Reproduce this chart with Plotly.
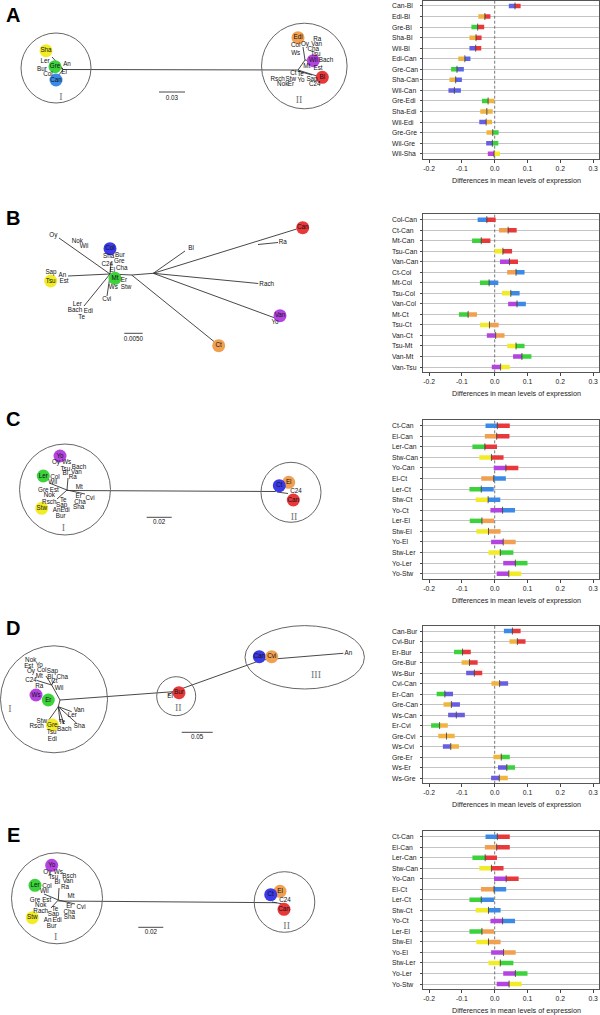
import plotly.graph_objects as go

W, H = 600, 1015

# ---------------- right-hand interval plots: data ----------------
A_labels = ["Can-Bl", "Edi-Bl", "Gre-Bl", "Sha-Bl", "Wil-Bl", "Edi-Can", "Gre-Can", "Sha-Can",
            "Wil-Can", "Gre-Edi", "Sha-Edi", "Wil-Edi", "Gre-Gre", "Wil-Gre", "Wil-Sha"]
A_low = [0.043, -0.050, -0.071, -0.077, -0.077, -0.111, -0.133, -0.138, -0.141, -0.039, -0.044, -0.047, -0.025, -0.026, -0.021]
A_mid = [0.062, -0.030, -0.052, -0.057, -0.058, -0.091, -0.115, -0.119, -0.123, -0.020, -0.024, -0.026, -0.006, -0.007, -0.002]
A_high = [0.079, -0.013, -0.032, -0.040, -0.041, -0.074, -0.094, -0.100, -0.103, -0.001, -0.006, -0.008, 0.012, 0.011, 0.016]

B_labels = ["Col-Can", "Ct-Can", "Mt-Can", "Tsu-Can", "Van-Can", "Ct-Col", "Mt-Col", "Tsu-Col",
            "Van-Col", "Mt-Ct", "Tsu-Ct", "Van-Ct", "Tsu-Mt", "Van-Mt", "Van-Tsu"]
B_low = [-0.052, 0.013, -0.069, -0.001, 0.016, 0.038, -0.045, 0.022, 0.041, -0.109, -0.045, -0.024, 0.038, 0.056, -0.009]
B_mid = [-0.024, 0.041, -0.041, 0.025, 0.045, 0.065, -0.017, 0.049, 0.068, -0.081, -0.016, 0.003, 0.065, 0.083, 0.018]
B_high = [0.003, 0.067, -0.013, 0.053, 0.071, 0.091, 0.011, 0.076, 0.095, -0.054, 0.012, 0.030, 0.091, 0.112, 0.046]

C_labels = ["Ct-Can", "El-Can", "Ler-Can", "Stw-Can", "Yo-Can", "El-Ct", "Ler-Ct", "Stw-Ct",
            "Yo-Ct", "Ler-El", "Stw-El", "Yo-El", "Stw-Ler", "Yo-Ler", "Yo-Stw"]
C_low = [-0.028, -0.030, -0.068, -0.047, -0.003, -0.041, -0.077, -0.058, -0.013, -0.076, -0.056, -0.011, -0.019, 0.026, 0.006]
C_mid = [0.008, 0.006, -0.030, -0.010, 0.034, -0.003, -0.041, -0.020, 0.024, -0.039, -0.019, 0.026, 0.017, 0.063, 0.043]
C_high = [0.046, 0.045, 0.007, 0.027, 0.072, 0.034, -0.003, 0.017, 0.062, -0.002, 0.018, 0.064, 0.057, 0.100, 0.081]

D_labels = ["Can-Bur", "Cvi-Bur", "Er-Bur", "Gre-Bur", "Ws-Bur", "Cvi-Can", "Er-Can", "Gre-Can",
            "Ws-Can", "Er-Cvi", "Gre-Cvi", "Ws-Cvi", "Gre-Er", "Ws-Er", "Ws-Gre"]
D_low = [0.028, 0.045, -0.124, -0.101, -0.087, -0.010, -0.177, -0.156, -0.142, -0.194, -0.172, -0.158, -0.004, 0.010, -0.011]
D_mid = [0.054, 0.069, -0.098, -0.077, -0.062, 0.015, -0.152, -0.132, -0.117, -0.168, -0.147, -0.134, 0.020, 0.037, 0.014]
D_high = [0.079, 0.094, -0.073, -0.052, -0.038, 0.041, -0.127, -0.106, -0.091, -0.143, -0.122, -0.109, 0.046, 0.062, 0.040]

E_labels = ["Ct-Can", "El-Can", "Ler-Can", "Stw-Can", "Yo-Can", "El-Ct", "Ler-Ct", "Stw-Ct",
            "Yo-Ct", "Ler-El", "Stw-El", "Yo-El", "Stw-Ler", "Yo-Ler", "Yo-Stw"]
E_low = [-0.028, -0.030, -0.068, -0.047, -0.002, -0.042, -0.077, -0.058, -0.013, -0.077, -0.056, -0.011, -0.019, 0.026, 0.006]
E_mid = [0.008, 0.006, -0.029, -0.010, 0.035, -0.002, -0.041, -0.019, 0.024, -0.039, -0.019, 0.027, 0.017, 0.063, 0.044]
E_high = [0.046, 0.046, 0.007, 0.027, 0.073, 0.035, -0.002, 0.018, 0.062, -0.002, 0.018, 0.064, 0.057, 0.100, 0.082]

x_ticks = [-0.2, -0.1, 0.0, 0.1, 0.2, 0.3]
x_ticktext = ["-0.2", "-0.1", "0.0", "0.1", "0.2", "0.3"]
x_title = "Differences in mean levels of expression"

# ---------------- styles ----------------
RED = "#e8383a"
ORANGE = "#f0a050"
GOLD = "#f2b440"
YELLOW = "#f2ec28"
GREEN = "#3cd23c"
BLUE = "#3c8ae6"
PBLUE = "#6a5ee0"
PURPLE = "#b444e0"
DBLUE = "#3a3ae8"

A_cols = {"Can": "#5e66e6", "Bl": RED, "Edi": GOLD, "Gre": GREEN, "Sha": GOLD, "Wil": PBLUE}
A_over = {12: (GOLD, GREEN), 14: ("#c040e0", YELLOW)}
B_cols = {"Col": BLUE, "Can": RED, "Ct": ORANGE, "Mt": GREEN, "Tsu": YELLOW, "Van": PURPLE}
C_cols = {"Ct": BLUE, "Can": RED, "El": ORANGE, "Ler": GREEN, "Stw": YELLOW, "Yo": PURPLE}
D_cols = {"Can": PBLUE, "Bur": RED, "Cvi": GOLD, "Er": GREEN, "Gre": GOLD, "Ws": PBLUE}
D_over = {0: (BLUE, RED)}

# (labels, low, mid, high, colours, overrides, top px, bottom px)
panels = [
    (A_labels, A_low, A_mid, A_high, A_cols, A_over, 0.7, 159.0),
    (B_labels, B_low, B_mid, B_high, B_cols, {}, 214.4, 372.3),
    (C_labels, C_low, C_mid, C_high, C_cols, {}, 420.4, 579.0),
    (D_labels, D_low, D_mid, D_high, D_cols, D_over, 625.8, 783.3),
    (E_labels, E_low, E_mid, E_high, C_cols, {}, 831.4, 989.3),
]

fig = go.Figure()
FONT = "Liberation Sans, Arial, sans-serif"
annotations = []

def yf(px):
    return 1 - px / H

for i, (labs, lo, mi, hi, cols, over, top, bot) in enumerate(panels):
    n = i + 1
    xa = "x" if n == 1 else f"x{n}"
    ya = "y" if n == 1 else f"y{n}"
    rows = list(range(1, len(labs) + 1))
    fig.add_trace(go.Scatter(x=[0, 0], y=[0.5, len(labs) + 0.5], mode="lines",
                             line=dict(color="#555", width=0.8, dash="3px,2px"),
                             xaxis=xa, yaxis=ya, hoverinfo="skip"))
    for k, lab in enumerate(labs):
        a, b = lab.split("-")
        c1, c2 = over.get(k, (cols.get(a, "#888"), cols.get(b, "#888")))
        r = rows[k]
        fig.add_trace(go.Scatter(x=[lo[k], mi[k]], y=[r, r], mode="lines",
                                 line=dict(color=c1, width=4.5), xaxis=xa, yaxis=ya))
        fig.add_trace(go.Scatter(x=[mi[k], hi[k]], y=[r, r], mode="lines",
                                 line=dict(color=c2, width=4.5), xaxis=xa, yaxis=ya))
        annotations.append(dict(text=lab, x=390 / W, xref="paper", y=r, yref=ya, xanchor="left",
                                yanchor="middle", showarrow=False,
                                font=dict(family=FONT, size=6.8, color="#222")))
    fig.add_trace(go.Scatter(x=mi, y=rows, mode="markers",
                             marker=dict(symbol="line-ns", size=5, line=dict(color="#333", width=0.8)),
                             xaxis=xa, yaxis=ya))
    fig.layout[f"xaxis{'' if n == 1 else n}"] = dict(
        domain=[423 / W, 599 / W], range=[-0.2186, 0.318], anchor=ya,
        tickvals=x_ticks, ticktext=x_ticktext, ticks="outside", ticklen=3,
        tickcolor="#444", showline=True, linecolor="#555", linewidth=1, mirror=True,
        showgrid=False, zeroline=False, fixedrange=True,
        tickfont=dict(family=FONT, size=6.8, color="#222"))
    fig.layout[f"yaxis{'' if n == 1 else n}"] = dict(
        domain=[yf(bot), yf(top)], range=[len(labs) + 0.5, 0.5], anchor=xa,
        tickvals=rows, showticklabels=False, ticks="outside", ticklen=2, tickcolor="#444",
        showline=True, linecolor="#555", linewidth=1, mirror=True, fixedrange=True,
        showgrid=True, gridcolor="#c4c4c4", gridwidth=1, zeroline=False)
    annotations.append(dict(text=x_title, x=516 / W, xref="paper", y=yf(bot + 21), yref="paper",
                            xanchor="center", yanchor="middle", showarrow=False,
                            font=dict(family=FONT, size=7.2, color="#222")))

# ---------------- left-hand trees: data (layout positions) ----------------
A_edges = [(52, 57, 63, 69), (57, 66, 63, 69), (57, 77, 63, 70), (63, 69.5, 298, 70),
           (298, 70, 305, 60), (305, 60, 303, 47), (305, 60, 313, 61), (298, 70, 320, 77), (298, 71, 312, 75)]
A_text = [("Ler", 45, 61), ("An", 67, 64), ("Bur", 42, 69), ("El", 64, 72.7), ("Col", 48, 74.5),
          ("Ra", 317.3, 39), ("Col", 295.7, 45.3), ("Oy", 305, 44.3), ("Van", 316.7, 44), ("Cha", 313.3, 49),
          ("Tsu", 315.7, 54.3), ("Ws", 295.7, 53.3), ("Bach", 326, 60), ("Mt", 306.7, 66.7), ("Est", 318, 68),
          ("Ct", 293.3, 73.3), ("Te", 300.5, 74.5), ("Rsch", 277.7, 79), ("Stw", 290.7, 79), ("Yo", 301, 80.5),
          ("Sap", 312, 79), ("Nok", 282.7, 84.7), ("Er", 291, 84), ("C24", 314.7, 84.7)]
A_dots = [("Sha", 46, 50.7, YELLOW), ("Gre", 55, 66.7, GREEN), ("Can", 56, 80, "#3a8ae8"),
          ("Edi", 298, 37.7, ORANGE), ("Wil", 313.3, 60.7, PURPLE), ("Bl", 322.3, 77.3, RED)]
A_rings = [(56, 68, 35, 35), (304.3, 66, 42.8, 42.8)]
A_roman = [("I", 61, 97), ("II", 299, 100)]
A_scale = (159, 185, 92, "0.03", 98.5)

B_edges = [(110, 274, 59, 238), (68, 276, 110, 274), (110, 274, 131.7, 275), (131.7, 275, 153.3, 273.3),
           (110, 274, 84, 306), (110, 276, 107, 296), (131.7, 275, 218.3, 345), (153.3, 273.3, 185, 251),
           (153.3, 273.3, 296.7, 229), (258, 244.5, 278, 242.5), (153.3, 273.3, 258.3, 283.5),
           (153.3, 273.3, 275, 318), (110, 274, 111, 262)]
B_text = [("Oy", 53.3, 235.7), ("Nok", 77.3, 241), ("Wil", 84, 246.7), ("Sha", 108.7, 256.7), ("Bur", 120, 255),
          ("C24", 107.3, 264), ("Gre", 119.3, 261.7), ("Cha", 121.7, 268.3), ("El", 112.3, 270),
          ("Sap", 51, 272.7), ("An", 62.3, 275), ("Est", 64, 281), ("Er", 124, 280), ("Ws", 113.3, 287.3),
          ("Stw", 126, 287.3), ("Cvi", 106.7, 299.3), ("Ler", 77.3, 304), ("Bach", 75, 310.7), ("Edi", 88.3, 311.7),
          ("Te", 81.7, 317.3), ("Bl", 191, 248.3), ("Ra", 282.7, 242.3), ("Rach", 266.7, 284), ("Yo", 275, 322.3)]
B_dots = [("Col", 110, 248.7, DBLUE), ("Mt", 115, 278.3, GREEN), ("Tsu", 50.7, 281, YELLOW),
          ("Can", 302.7, 227.7, RED), ("Van", 280, 315.7, PURPLE), ("Ct", 218.7, 345.7, ORANGE)]
B_rings = []
B_roman = []
B_scale = (124.3, 142.7, 333.3, "0.0050", 339.5)

C_edges = [(67, 490, 68, 478), (67, 490, 50, 483.3), (67, 490, 57, 499), (67, 490, 85, 494),
           (67, 490.5, 275, 491.5), (275, 491.5, 281, 489), (277, 492, 288, 493.5)]
C_text = [("Oy", 56, 462.7), ("Ws", 66.7, 462.7), ("Bach", 79, 467), ("Tsu", 65.3, 469), ("Van", 76.3, 472.3),
          ("Bl", 65.3, 473.3), ("Ra", 72.7, 477.7), ("Col", 55, 477.3), ("Wil", 52.7, 482.3), ("Mt", 79.3, 487),
          ("Gre", 43.3, 490.3), ("Est", 54.3, 490.3), ("Nok", 49.3, 495.3), ("Er", 78.7, 496.3), ("Cvi", 90, 498),
          ("Te", 63.3, 500), ("Rsch", 49.3, 502), ("Cha", 80, 502), ("Sap", 61.7, 505), ("Sha", 78.7, 507.7),
          ("An", 56.7, 510), ("Edi", 65, 510.7), ("Bur", 60.7, 516.7), ("C24", 296, 491)]
C_dots = [("Yo", 60, 456, PURPLE), ("Ler", 43.3, 476, GREEN), ("Stw", 41.7, 508.3, YELLOW),
          ("El", 288.7, 482.3, ORANGE), ("Ct", 279.3, 485.7, DBLUE), ("Can", 293.3, 500, RED)]
C_rings = [(65, 489.5, 45.5, 45.5), (291, 492.3, 30, 30)]
C_roman = [("I", 63.3, 528.3), ("II", 294, 517.3)]
C_scale = (146.7, 171.7, 517.3, "0.02", 522.8)

D_edges = [(60, 700, 173.3, 691.7), (173.3, 691.7, 261.7, 660), (261.7, 660, 343.3, 653.3),
           (173.3, 691.7, 168, 695), (58.3, 706.7, 60, 700), (60, 700, 51.7, 685), (51.7, 685, 37, 680.5),
           (51.7, 685, 55, 679), (51.7, 685, 46, 676), (58.3, 706.7, 76.7, 723.3), (58.3, 706.7, 71.7, 711.7),
           (58.3, 706.7, 48.3, 720.7), (58.3, 706.7, 60, 722), (58.3, 706.7, 64, 724)]
D_text = [("Nok", 30.7, 660), ("Yo", 39.3, 665.3), ("Est", 28.7, 666.3), ("Col", 41.7, 670.7), ("Sap", 52.3, 671.7),
          ("Oy", 31, 671.7), ("Mt", 39.3, 676), ("Bl", 50, 677.7), ("Cha", 62.3, 677.7), ("C24", 31, 680.7),
          ("Ct", 54.3, 681.7), ("Ra", 39.3, 686.7), ("Wil", 59, 688.3), ("Van", 79, 710), ("Ler", 72.3, 715.7),
          ("Stw", 41.7, 721), ("Te", 62, 722), ("Rsch", 36.7, 726.7), ("Sha", 79.3, 726.7), ("Bach", 64.3, 729),
          ("Tsu", 51.7, 732.7), ("Edi", 52.3, 739), ("El", 170, 696.7), ("An", 348.3, 653.3)]
D_dots = [("Ws", 36, 695, PURPLE), ("Er", 48.3, 700, GREEN), ("Gre", 52.3, 725, YELLOW),
          ("Bur", 179, 692.7, RED), ("Can", 259.3, 656.7, DBLUE), ("Cvi", 271.7, 656.7, ORANGE)]
D_rings = [(54, 699.3, 53.5, 53.5), (176.2, 696.2, 19.5, 19.5), (304.7, 657.3, 59.7, 31.7)]
D_roman = [("I", 10, 709), ("II", 178.3, 708.3), ("III", 316, 675.3)]
D_scale = (181.7, 212.7, 732.3, "0.05", 737.8)

E_edges = [(58.3, 900, 59, 888), (58.3, 900, 44, 894), (58.3, 900, 51, 908), (58.3, 900, 75, 904),
           (58.3, 901, 276.7, 902.7), (272, 902, 283, 904)]
E_text = [("Oy", 47.3, 872.3), ("Ws", 58.3, 872.3), ("Bsch", 69.3, 876.7), ("Tsu", 53.3, 877.3), ("Van", 68, 881.7),
          ("Bl", 57.3, 882.7), ("Ra", 65, 887.7), ("Col", 47, 886.3), ("Wil", 44.3, 891.7), ("Mt", 71, 896.7),
          ("Gre", 35, 900), ("Est", 46.7, 900), ("Nok", 40.7, 905), ("Er", 69.3, 906), ("Cvi", 81, 907.3),
          ("Te", 55, 909.3), ("Rach", 40.7, 911.7), ("Cha", 69.3, 912), ("Sap", 53.3, 914.3), ("Sha", 69.3, 917.3),
          ("An", 47.7, 920), ("Edi", 57, 920.7), ("Bur", 51.7, 926), ("C24", 285, 900.7)]
E_dots = [("Yo", 51.7, 865.3, PURPLE), ("Ler", 35, 885.3, GREEN), ("Stw", 32.3, 917.7, YELLOW),
          ("El", 280, 891.3, ORANGE), ("Ct", 270.7, 894.7, DBLUE), ("Can", 284, 909.3, RED)]
E_rings = [(57, 898.3, 45.5, 45.5), (284.5, 902, 30.3, 30.3)]
E_roman = [("I", 55.7, 937.3), ("II", 286.7, 926.7)]
E_scale = (138.3, 163.3, 927.3, "0.02", 932.3)

panel_letters = [("A", 13, 15), ("B", 13, 218), ("C", 13, 419), ("D", 13.3, 627.7), ("E", 13.3, 835)]

trees = [
    (A_edges, A_text, A_dots, A_rings, A_roman, A_scale),
    (B_edges, B_text, B_dots, B_rings, B_roman, B_scale),
    (C_edges, C_text, C_dots, C_rings, C_roman, C_scale),
    (D_edges, D_text, D_dots, D_rings, D_roman, D_scale),
    (E_edges, E_text, E_dots, E_rings, E_roman, E_scale),
]

TX, TY = "x6", "y6"
fig.layout["xaxis6"] = dict(domain=[0, 380 / W], range=[0, 380], visible=False, anchor="y6", fixedrange=True)
fig.layout["yaxis6"] = dict(domain=[0, 1], range=[H, 0], visible=False, anchor="x6", fixedrange=True)

shapes = []
for edges, texts, dots, rings, roman, scale in trees:
    ex, ey = [], []
    for x0, y0, x1, y1 in edges:
        ex += [x0, x1, None]
        ey += [y0, y1, None]
    sx0, sx1, sy, slab, sly = scale
    ex += [sx0, sx1, None]
    ey += [sy, sy, None]
    fig.add_trace(go.Scatter(x=ex, y=ey, mode="lines", line=dict(color="#333", width=0.9),
                             xaxis=TX, yaxis=TY, hoverinfo="skip"))
    fig.add_trace(go.Scatter(x=[d[1] for d in dots], y=[d[2] for d in dots], mode="markers+text",
                             marker=dict(size=13, color=[d[3] for d in dots], line=dict(width=0)),
                             text=[d[0] for d in dots], textposition="middle center",
                             textfont=dict(family=FONT, size=6.3, color="#111"),
                             xaxis=TX, yaxis=TY, hoverinfo="skip"))
    fig.add_trace(go.Scatter(x=[t[1] for t in texts] + [(sx0 + sx1) / 2],
                             y=[t[2] for t in texts] + [sly],
                             mode="text", text=[t[0] for t in texts] + [slab],
                             textposition="middle center",
                             textfont=dict(family=FONT, size=6.3, color="#111"),
                             xaxis=TX, yaxis=TY, hoverinfo="skip"))
    if roman:
        fig.add_trace(go.Scatter(x=[r[1] for r in roman], y=[r[2] for r in roman], mode="text",
                                 text=[r[0] for r in roman], textposition="middle center",
                                 textfont=dict(family="Liberation Serif, serif", size=10, color="#777"),
                                 xaxis=TX, yaxis=TY, hoverinfo="skip"))
    for cx, cy, rx, ry in rings:
        shapes.append(dict(type="circle", xref=TX, yref=TY, x0=cx - rx, x1=cx + rx,
                           y0=cy - ry, y1=cy + ry, line=dict(color="#666", width=1)))

for letter, lx, ly in panel_letters:
    annotations.append(dict(text=f"<b>{letter}</b>", x=lx, y=ly, xref=TX, yref=TY, showarrow=False,
                            font=dict(family=FONT, size=20, color="#000"), xanchor="center", yanchor="middle"))

fig.update_layout(width=W, height=H, margin=dict(l=0, r=0, t=0, b=0), showlegend=False,
                  paper_bgcolor="white", plot_bgcolor="rgba(0,0,0,0)", hovermode=False,
                  shapes=shapes, annotations=annotations)
fig.write_html("out.html", config={"displayModeBar": False, "staticPlot": True},
               post_script="document.body.style.margin='0px';")
